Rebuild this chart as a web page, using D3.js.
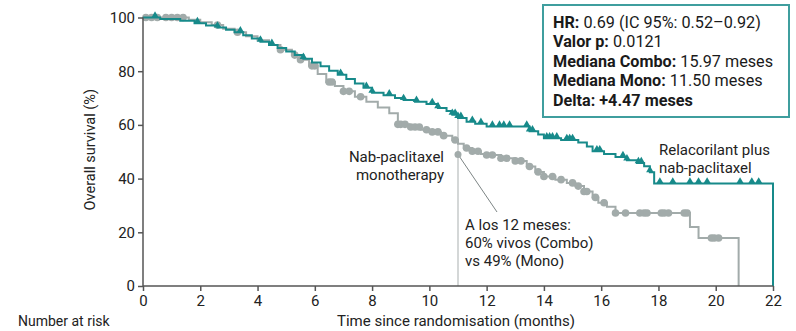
<!DOCTYPE html>
<html><head><meta charset="utf-8">
<script src="https://cdn.jsdelivr.net/npm/d3@7"></script>
<style>body{margin:0;background:#fff}svg{display:block}text{font-family:Roboto,"Liberation Sans",sans-serif}</style>
</head><body><svg id="c" width="796" height="331"></svg>
<script>
// ---- data ----
const xTicks = [0,2,4,6,8,10,12,14,16,18,20,22];
const yTicks = [0,20,40,60,80,100];
const comboTime = [0,0.6,1.3,1.8,2.2,2.6,2.9,3.2,3.5,3.8,4.1,4.4,4.7,5.0,5.3,5.6,5.9,6.2,6.5,6.8,7.1,7.4,7.7,8.0,8.4,8.8,9.1,9.5,9.9,10.3,10.6,10.8,11.0,11.3,11.6,12.0,13.5,13.8,14.0,14.6,15.2,15.5,15.7,16.1,16.5,16.9,17.25,17.5,17.7,17.85,22];
const comboSurv = [100,99.4,98.8,97.9,97.0,96.3,95.4,94.5,93.4,92.2,91.0,89.8,88.6,87.3,86.0,84.6,83.2,81.8,80.2,78.7,77.1,75.4,73.8,72.0,71.0,70.0,69.3,68.6,67.8,66.3,65.2,63.8,62.6,61.2,60.4,59.4,57.6,56.4,55.0,54.4,53.4,52.0,50.2,49.2,48.0,46.8,45.8,44.6,42.4,38.2,0];
const comboCensor = [0.42,1.9,2.6,3.4,4.1,4.5,5.6,6.9,7.8,8.0,8.6,9.1,9.55,10.1,10.3,10.8,10.9,11.0,11.1,11.5,11.8,12.2,12.45,12.6,12.8,13.4,13.5,13.6,14.1,14.2,14.3,14.45,14.8,14.9,15.0,15.85,15.95,16.76,16.9,17.3,17.4,17.7,18.05,18.5,19.1,19.4,19.7,20.85,21.26,21.5];
const monoTime = [0,1.6,2.0,2.4,2.8,3.2,3.6,4.0,4.4,4.8,5.2,5.5,5.8,6.1,6.4,6.7,7.0,7.4,7.8,8.2,8.6,8.9,9.3,9.7,10.0,10.4,10.8,11.0,11.2,11.5,11.8,12.0,12.5,13.0,13.4,13.7,14.0,14.4,14.8,15.1,15.4,15.7,15.9,16.2,16.5,19.1,19.4,20.8];
const monoSurv = [100,99.2,98.2,97.2,95.8,94.5,93.0,91.5,89.8,88.0,86.0,84.3,82.0,79.0,76.0,74.5,72.5,70.5,68.6,66.5,64.3,60.2,59.2,58.2,57.4,56.0,54.4,53.0,51.4,50.2,49.2,48.8,47.6,46.6,44.5,42.5,40.8,39.6,38.4,37.2,35.2,33.0,31.0,29.5,27.2,22.0,17.9,0];
const monoCensor = [0.1,0.3,0.5,0.8,1.0,1.2,1.4,2.6,3.3,4.8,5.3,5.5,5.9,6.0,6.5,6.6,7.0,7.2,7.6,8.9,9.0,9.15,9.35,9.5,9.65,9.9,10.1,10.3,10.5,10.9,11.3,11.5,11.7,12.0,12.2,12.5,12.7,13.0,13.2,13.5,13.8,14.0,14.3,14.6,15.0,15.2,15.4,15.5,15.8,16.1,16.5,16.85,17.35,17.5,17.6,18.1,18.2,18.35,18.9,19.0,19.85,19.95,20.1];
const statLines = [["HR:"," 0.69 (IC 95%: 0.52\u20130.92)"],["Valor p:"," 0.0121"],["Mediana Combo:"," 15.97 meses"],["Mediana Mono:"," 11.50 meses"],["Delta: +4.47 meses",""]];
const annoTime = 11, annoMono = 49;
const annoText = ["A los 12 meses:","60% vivos (Combo)","vs 49% (Mono)"];
const monoLabel = ["Nab-paclitaxel","monotherapy"];
const comboLabel = ["Relacorilant plus","nab-paclitaxel"];

// ---- chart ----
const svg = d3.select("#c");
const x = d3.scaleLinear().domain([0,22]).range([143,773]);
const y = d3.scaleLinear().domain([0,100]).range([286,17.5]);
const teal = "#178a8a", gray = "#a2abaa", axisCol = "#555";

function survAt(times, surv, t){ const i = d3.bisectRight(times, t) - 1; return surv[Math.max(0,i)]; }

svg.append("line").attr("x1",x(annoTime)).attr("x2",x(annoTime))
  .attr("y1",y(survAt(comboTime,comboSurv,annoTime))).attr("y2",y(0))
  .attr("stroke","#b8bcbc").attr("stroke-width",1.2);

const line = d3.line().x(d=>x(d[0])).y(d=>y(d[1])).curve(d3.curveStepAfter);
svg.append("path").datum(monoTime.map((t,i)=>[t,monoSurv[i]]))
  .attr("d",line).attr("fill","none").attr("stroke",gray).attr("stroke-width",2);
svg.selectAll(".mc").data(monoCensor).join("circle")
  .attr("cx",d=>x(d)).attr("cy",d=>y(survAt(monoTime,monoSurv,d))).attr("r",3.8).attr("fill",gray);

svg.append("path").datum(comboTime.map((t,i)=>[t,comboSurv[i]]))
  .attr("d",line).attr("fill","none").attr("stroke",teal).attr("stroke-width",2);
const tri = d3.symbol().type(d3.symbolTriangle).size(24);
svg.selectAll(".cc").data(comboCensor).join("path")
  .attr("d",tri).attr("fill",teal)
  .attr("transform",d=>`translate(${x(d)},${y(survAt(comboTime,comboSurv,d))-2})`);

// axes
const xa = svg.append("g").attr("transform",`translate(0,${y(0)})`)
  .call(d3.axisBottom(x).tickValues(xTicks).tickSize(5).tickPadding(4));
const ya = svg.append("g").attr("transform",`translate(${x(0)},0)`)
  .call(d3.axisLeft(y).tickValues(yTicks).tickSize(5).tickPadding(3));
[xa,ya].forEach(g=>{
  g.selectAll("path,line").attr("stroke",axisCol).attr("stroke-width",1.5);
  g.selectAll("text").attr("font-size",15).attr("fill","#222").attr("font-family","Roboto,sans-serif");
});
xa.select(".domain").attr("d",`M${x(0)},0H${x(22)}`);
ya.select(".domain").attr("d",`M0,${y(0)}V${y(100)}`);

svg.append("text").attr("transform",`translate(95,${y(50)-2}) rotate(-90)`)
  .attr("text-anchor","middle").attr("font-size",14.5).attr("fill","#222").text("Overall survival (%)");
svg.append("text").attr("x",456).attr("y",326).attr("text-anchor","middle")
  .attr("font-size",15).attr("fill","#222").text("Time since randomisation (months)");
svg.append("text").attr("x",18).attr("y",326).attr("font-size",14).attr("fill","#222").text("Number at risk");

// annotation dot & pointer
svg.append("line").attr("x1",x(annoTime)).attr("y1",y(annoMono)).attr("x2",497).attr("y2",212)
  .attr("stroke","#7d8585").attr("stroke-width",1);
svg.append("circle").attr("cx",x(annoTime)).attr("cy",y(annoMono)).attr("r",3.5).attr("fill",gray);
svg.append("text").attr("font-size",15).attr("fill","#222")
  .selectAll("tspan").data(annoText).join("tspan").attr("x",465).attr("y",(d,i)=>230+i*18).text(d=>d);
svg.append("text").attr("text-anchor","end").attr("font-size",15).attr("fill","#222")
  .selectAll("tspan").data(monoLabel).join("tspan").attr("x",444).attr("y",(d,i)=>162+i*18).text(d=>d);
svg.append("text").attr("font-size",15).attr("fill","#222")
  .selectAll("tspan").data(comboLabel).join("tspan").attr("x",659).attr("y",(d,i)=>155+i*17.5).text(d=>d);

// stats box
svg.append("rect").attr("x",543).attr("y",5).attr("width",246).attr("height",112)
  .attr("fill","#fff").attr("stroke","#3f9e9e").attr("stroke-width",2);
const st = svg.append("g");
statLines.forEach((l,i)=>{
  const t = st.append("text").attr("x",553).attr("y",27.5+i*19.5).attr("font-size",16.2).attr("fill","#1a1a1a");
  t.append("tspan").attr("font-weight","bold").text(l[0]);
  t.append("tspan").text(l[1]);
});
</script></body></html>
